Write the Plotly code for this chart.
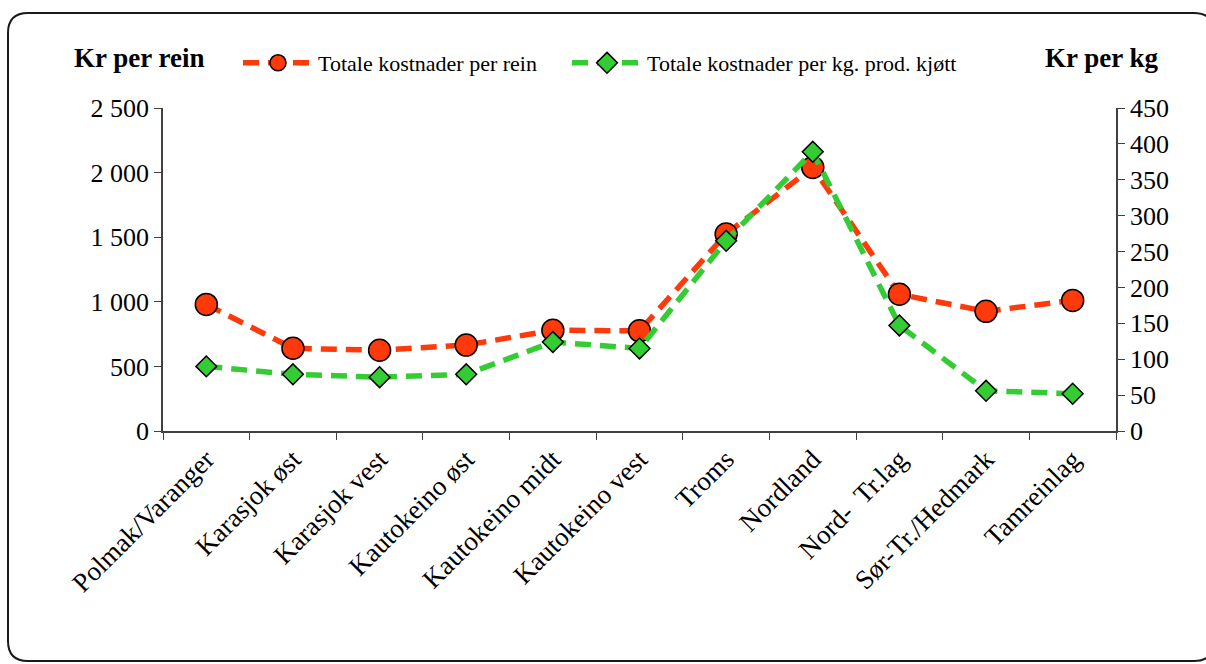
import plotly.graph_objects as go

# data
categories = ['Polmak/Varanger', 'Karasjok øst', 'Karasjok vest', 'Kautokeino øst',
              'Kautokeino midt', 'Kautokeino vest', 'Troms', 'Nordland',
              'Nord-\u00a0 Tr.lag', 'Sør-Tr./Hedmark', 'Tamreinlag']
kr_per_rein = [980, 640, 625, 665, 780, 775, 1525, 2040, 1058, 926, 1011]
kr_per_kg = [90, 79, 75, 79, 124, 115, 265, 389, 147, 56, 52]

left_ticks = [0, 500, 1000, 1500, 2000, 2500]
left_ticktext = ['0', '500', '1 000', '1 500', '2 000', '2 500']
right_ticks = [0, 50, 100, 150, 200, 250, 300, 350, 400, 450]

W, H = 1206, 664
ML, MR, MT, MB = 163, 90, 108, 233
pw, ph = W - ML - MR, H - MT - MB

font = 'Liberation Serif, Times New Roman, serif'
red = '#ff3a0a'
green = '#33cc33'
axis_col = '#404040'


def px(x):
    return (x - ML) / pw


def py(y):
    return (H - MB - y) / ph


fig = go.Figure()

fig.add_trace(go.Scatter(
    x=categories, y=kr_per_rein, name='Totale kostnader per rein',
    mode='lines+markers', legend='legend',
    line=dict(color=red, width=5.5, dash='16px,9px'),
    marker=dict(symbol='circle', size=22, color=red, line=dict(color='black', width=1.5)),
))
fig.add_trace(go.Scatter(
    x=categories, y=kr_per_kg, name='Totale kostnader per kg. prod. kjøtt',
    mode='lines+markers', yaxis='y2', legend='legend2',
    line=dict(color=green, width=5.5, dash='16px,9px'),
    marker=dict(symbol='diamond', size=16, color=green, line=dict(color='black', width=1.5)),
))

n = len(categories)
bounds = [i - 0.5 for i in range(n + 1)]

legend_style = dict(orientation='h', xanchor='left', y=py(63), yanchor='middle',
                    font=dict(size=22, family=font), bgcolor='rgba(0,0,0,0)', itemwidth=70)

fig.update_layout(
    width=W, height=H,
    margin=dict(l=ML, r=MR, t=MT, b=MB),
    paper_bgcolor='white', plot_bgcolor='white',
    font=dict(family=font, color='black', size=20),
    xaxis=dict(type='category', categoryarray=categories, range=[-0.5, n - 0.5],
               tickson='boundaries', ticks='outside', ticklen=7, tickcolor=axis_col,
               showline=True, linecolor=axis_col, linewidth=1.5, showgrid=False,
               tickangle=-45, tickfont=dict(size=27), zeroline=False),
    xaxis2=dict(overlaying='x', anchor='y', range=[-0.5, n - 0.5], tickvals=bounds,
                ticks='inside', ticklen=7, tickcolor=axis_col, showticklabels=False,
                showgrid=False, zeroline=False, showline=False),
    yaxis=dict(range=[0, 2500], tickvals=left_ticks, ticktext=left_ticktext,
               ticks='outside', ticklen=7, tickcolor=axis_col, showline=True,
               linecolor=axis_col, linewidth=1.5, showgrid=False, zeroline=False,
               tickfont=dict(size=26)),
    yaxis2=dict(range=[0, 450], tickvals=right_ticks, overlaying='y', side='right',
                anchor='x', ticks='outside', ticklen=7, tickcolor=axis_col,
                showline=True, linecolor=axis_col, linewidth=1.5, showgrid=False,
                zeroline=False, tickfont=dict(size=26)),
    yaxis3=dict(range=[0, 2500], tickvals=left_ticks, overlaying='y', side='left',
                anchor='x', ticks='inside', ticklen=7, tickcolor=axis_col,
                showticklabels=False, showgrid=False, zeroline=False, showline=False),
    yaxis4=dict(range=[0, 450], tickvals=right_ticks, overlaying='y', side='right',
                anchor='x', ticks='inside', ticklen=7, tickcolor=axis_col,
                showticklabels=False, showgrid=False, zeroline=False, showline=False),
    showlegend=True,
    legend=dict(x=px(238), **legend_style),
    legend2=dict(x=px(567), **legend_style),
)

fig.add_annotation(text='<b>Kr per rein</b>', x=px(139), y=py(58), xref='paper', yref='paper',
                   showarrow=False, font=dict(size=27, family=font), xanchor='center', yanchor='middle')
fig.add_annotation(text='<b>Kr per kg</b>', x=px(1102), y=py(58), xref='paper', yref='paper',
                   showarrow=False, font=dict(size=27, family=font), xanchor='center', yanchor='middle')

# rounded frame around the whole chart
x0, x1, y0, y1, r = 8, 1214, 13, 661, 20
path = (f'M {px(x0 + r)},{py(y0)} L {px(x1 - r)},{py(y0)} '
        f'Q {px(x1)},{py(y0)} {px(x1)},{py(y0 + r)} L {px(x1)},{py(y1 - r)} '
        f'Q {px(x1)},{py(y1)} {px(x1 - r)},{py(y1)} L {px(x0 + r)},{py(y1)} '
        f'Q {px(x0)},{py(y1)} {px(x0)},{py(y1 - r)} L {px(x0)},{py(y0 + r)} '
        f'Q {px(x0)},{py(y0)} {px(x0 + r)},{py(y0)} Z')
fig.add_shape(type='path', path=path, xref='paper', yref='paper',
              line=dict(color='#1a1a1a', width=2), layer='below')

fig.write_html('out.html', config={'displayModeBar': False},
               post_script="document.body.style.margin='0';")
